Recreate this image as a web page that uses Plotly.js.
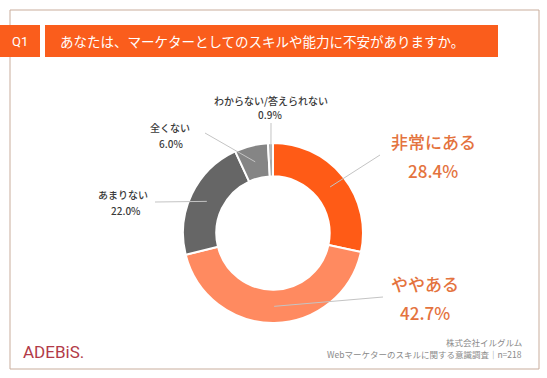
<!DOCTYPE html>
<html>
<head>
<meta charset="utf-8">
<script src="https://cdn.plot.ly/plotly-3.0.1.min.js"></script>
<style>
html,body{margin:0;padding:0;background:#fff;}
#chart{width:547px;height:378px;}
</style>
</head>
<body>
<div id="chart"></div>
<script>
const categories = ["非常にある", "ややある", "あまりない", "全くない", "わからない/答えられない"];
const values = [28.4, 42.7, 22.0, 6.0, 0.9];
const valueLabels = ["28.4%", "42.7%", "22.0%", "6.0%", "0.9%"];
const sliceColors = ["#ff5b16", "#ff8a60", "#666666", "#858585", "#a8a8a8"];
const titleText = "あなたは、マーケターとしてのスキルや能力に不安がありますか。";
const questionNo = "Q1";
const footerLines = ["株式会社イルグルム", "Webマーケターのスキルに関する意識調査｜n=218"];
const brand = "ADEBiS.";

const W = 547, H = 378;
const px = x => x / W;
const py = y => 1 - y / H;

// donut geometry (pixels)
const cx = 273, cy = 233, R = 90, holeFrac = 0.63;
const FONT = "Noto Sans CJK JP, Noto Sans, sans-serif";

// label layout (pixel centres), leader-line outer ends
const labelPos = [[433,142],[425,283],[123,194],[170,127],[271,100]];
const valuePos = [[433,170],[425,312],[126,210],[171,143],[270,114]];
const lineEnd = [[380,155],[383,297],[155,202],[205,133],[271,123]];
const bigIdx = [0,1];

const trace = {
  type: "pie",
  labels: categories,
  values: values,
  sort: false,
  direction: "clockwise",
  rotation: 0,
  hole: holeFrac,
  textinfo: "none",
  hoverinfo: "label+percent",
  marker: {colors: sliceColors, line: {color: "#ffffff", width: 2}},
  domain: {x: [px(cx - R), px(cx + R)], y: [py(cy + R), py(cy - R)]},
  showlegend: false
};

const shapes = [];
const annotations = [];

// frame
shapes.push({type:"rect", xref:"paper", yref:"paper", x0:px(10), x1:px(539), y0:py(369), y1:py(10),
  line:{color:"#c9ad9c", width:1}, fillcolor:"rgba(0,0,0,0)", layer:"below"});
// title bars
shapes.push({type:"rect", xref:"paper", yref:"paper", x0:px(0), x1:px(40), y0:py(57), y1:py(25),
  line:{width:0}, fillcolor:"#fa5d1c"});
shapes.push({type:"rect", xref:"paper", yref:"paper", x0:px(45), x1:px(498), y0:py(57), y1:py(25),
  line:{width:0}, fillcolor:"#fa5d1c"});

annotations.push({xref:"paper", yref:"paper", x:px(20), y:py(41), text:questionNo, showarrow:false,
  xanchor:"center", yanchor:"middle", font:{family:"Roboto, Liberation Sans, sans-serif", size:13, color:"#ffffff"}});
annotations.push({xref:"paper", yref:"paper", x:px(58), y:py(41), text:titleText, showarrow:false,
  xanchor:"left", yanchor:"middle", font:{family:FONT, size:13.5, color:"#ffffff"}});

// leader lines and labels from data
const total = values.reduce((a,b)=>a+b,0);
let cum = 0;
const rMid = R * (1 + holeFrac) / 2;
values.forEach((v,i)=>{
  const mid = (cum + v/2) / total * 2 * Math.PI;
  cum += v;
  const ix = cx + Math.sin(mid) * rMid;
  const iy = cy - Math.cos(mid) * rMid;
  shapes.push({type:"line", xref:"paper", yref:"paper", x0:px(ix), y0:py(iy), x1:px(lineEnd[i][0]), y1:py(lineEnd[i][1]),
    line:{color:"#c4c4c4", width:1}});
  const big = bigIdx.includes(i);
  const col = big ? "#e4733e" : "#3a3a3a";
  const sz = big ? 17 : 10;
  annotations.push({xref:"paper", yref:"paper", x:px(labelPos[i][0]), y:py(labelPos[i][1]), text:categories[i],
    showarrow:false, xanchor:"center", yanchor:"middle", font:{family:FONT, size:sz, color:col, weight:500}});
  annotations.push({xref:"paper", yref:"paper", x:px(valuePos[i][0]), y:py(valuePos[i][1]), text:valueLabels[i],
    showarrow:false, xanchor:"center", yanchor:"middle", font:{family:FONT, size:sz, color:col, weight:500}});
});

// footer
annotations.push({xref:"paper", yref:"paper", x:px(524), y:py(342), text:footerLines[0], showarrow:false,
  xanchor:"right", yanchor:"middle", font:{family:FONT, size:8.5, color:"#8a8a8a"}});
annotations.push({xref:"paper", yref:"paper", x:px(524), y:py(354), text:footerLines[1], showarrow:false,
  xanchor:"right", yanchor:"middle", font:{family:FONT, size:8.5, color:"#8a8a8a"}});
annotations.push({xref:"paper", yref:"paper", x:px(21), y:py(352), text:brand, showarrow:false,
  xanchor:"left", yanchor:"middle", font:{family:"Roboto, Liberation Sans, sans-serif", size:17, color:"#b23a48"}});

const layout = {
  width: W, height: H,
  margin: {l:0, r:0, t:0, b:0},
  paper_bgcolor: "#ffffff",
  plot_bgcolor: "#ffffff",
  shapes: shapes,
  annotations: annotations,
  showlegend: false
};

Plotly.newPlot("chart", [trace], layout, {displayModeBar:false, staticPlot:true});
</script>
</body>
</html>
